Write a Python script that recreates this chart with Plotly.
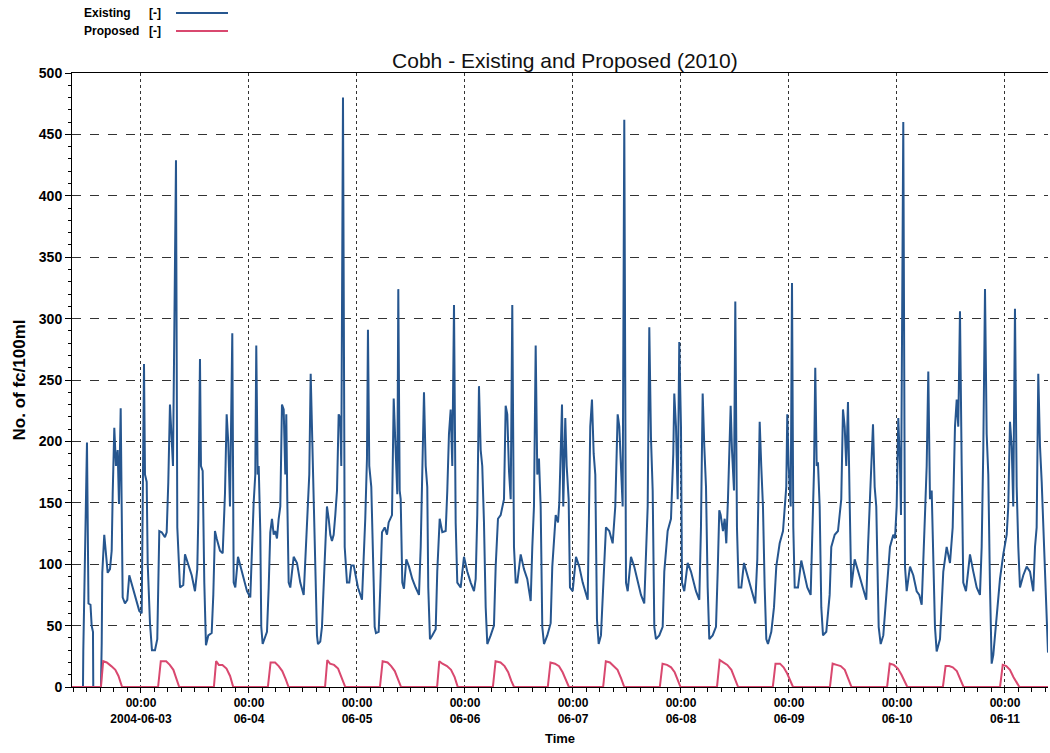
import pandas as pd
import plotly.graph_objects as go

# ---- data (hours after 2004-06-02 00:00, value in No. of fc/100ml) ----
existing = [
    (8.67, 0), (11.11, 0), (11.18, 29), (11.56, 96), (12.00, 199), (12.33, 68), (12.78, 67), (13.04, 50),
    (13.33, 45), (13.40, 0), (15.11, 0), (15.27, 35), (15.40, 93), (15.84, 124), (16.22, 111), (16.60, 93),
    (17.11, 96), (17.49, 111), (17.71, 157), (18.07, 211), (18.44, 180), (18.82, 193), (19.11, 149), (19.49, 227),
    (19.71, 147), (19.93, 73), (20.44, 68), (20.96, 71), (21.40, 91), (22.16, 81), (22.89, 71), (23.62, 62),
    (24.16, 60), (24.38, 170), (24.67, 263), (24.89, 173), (25.27, 167), (25.49, 101), (26.00, 52), (26.44, 30),
    (27.11, 30), (27.62, 39), (28.07, 127), (28.60, 126), (29.33, 122), (29.71, 126), (30.07, 167), (30.44, 230),
    (30.82, 199), (31.11, 180), (31.78, 429), (32.07, 130), (32.67, 81), (33.40, 83), (33.78, 108), (34.51, 99),
    (35.27, 91), (36.00, 78), (36.51, 96), (36.73, 137), (37.11, 267), (37.33, 180), (37.71, 176), (38.07, 85),
    (38.44, 34), (38.96, 42), (39.71, 44), (40.07, 75), (40.44, 127), (40.82, 121), (41.56, 111), (42.16, 109),
    (42.67, 158), (43.04, 222), (43.40, 199), (43.78, 147), (44.29, 288), (44.60, 85), (44.96, 81), (45.56, 106),
    (46.07, 99), (46.82, 88), (47.56, 78), (48.29, 73), (48.67, 114), (49.04, 150), (49.40, 173), (49.62, 278),
    (49.93, 173), (50.16, 180), (50.51, 127), (50.73, 49), (51.04, 35), (51.62, 42), (52.00, 45), (52.38, 81),
    (52.73, 126), (53.11, 137), (53.49, 124), (53.84, 127), (54.22, 121), (54.60, 137), (54.96, 147), (55.33, 230),
    (55.71, 226), (56.07, 173), (56.29, 222), (56.51, 153), (56.82, 85), (57.18, 81), (57.93, 106), (58.67, 101),
    (59.40, 85), (60.16, 75), (60.51, 104), (60.89, 140), (61.40, 173), (61.71, 255), (62.00, 212), (62.38, 160),
    (62.73, 108), (63.11, 42), (63.33, 35), (63.84, 37), (64.22, 49), (64.82, 101), (65.33, 147), (65.71, 137),
    (66.07, 124), (66.44, 119), (66.82, 124), (67.18, 140), (67.56, 160), (67.93, 222), (68.29, 219), (68.51, 180),
    (68.89, 480), (69.27, 114), (69.78, 85), (70.29, 85), (70.73, 99), (71.27, 99), (71.78, 90), (72.22, 81),
    (73.11, 71), (73.49, 104), (73.84, 137), (74.22, 186), (74.44, 291), (74.73, 180), (75.18, 163), (75.71, 85),
    (75.93, 49), (76.22, 44), (76.82, 45), (77.18, 81), (77.56, 126), (78.16, 130), (78.67, 124), (79.04, 134),
    (79.78, 140), (80.16, 235), (80.60, 196), (80.96, 157), (81.18, 324), (81.49, 160), (81.71, 153), (82.07, 85),
    (82.44, 80), (82.96, 104), (83.56, 98), (84.29, 88), (85.04, 81), (85.78, 75), (86.16, 114), (86.51, 180),
    (86.89, 240), (87.27, 180), (87.62, 163), (87.84, 81), (88.22, 39), (88.73, 42), (89.49, 47), (89.84, 94),
    (90.38, 137), (90.96, 126), (91.71, 127), (92.07, 160), (92.44, 206), (92.82, 226), (93.18, 180), (93.56, 311),
    (93.93, 134), (94.29, 85), (95.04, 81), (95.78, 106), (96.51, 94), (97.27, 85), (98.00, 78), (98.38, 88),
    (98.73, 140), (99.11, 245), (99.49, 193), (99.84, 180), (100.22, 134), (100.60, 65), (100.96, 35), (101.71, 42),
    (102.44, 50), (102.82, 98), (103.33, 137), (103.93, 140), (104.67, 153), (105.04, 229), (105.40, 222), (105.78, 176),
    (106.16, 153), (106.51, 311), (106.89, 114), (107.27, 85), (107.62, 85), (108.38, 108), (109.11, 96), (109.84, 88),
    (110.60, 70), (110.96, 114), (111.33, 147), (111.71, 278), (112.07, 173), (112.44, 186), (112.82, 147), (113.18, 49),
    (113.56, 35), (114.29, 42), (115.04, 52), (115.40, 98), (116.16, 140), (116.67, 134), (116.96, 150), (117.56, 230),
    (117.84, 147), (118.29, 219), (118.60, 180), (119.04, 153), (119.33, 81), (119.93, 78), (120.67, 106), (121.40, 98),
    (122.16, 85), (123.27, 71), (123.62, 147), (123.84, 212), (124.22, 234), (124.60, 190), (124.96, 173), (125.33, 55),
    (125.71, 35), (126.22, 42), (126.96, 101), (127.33, 130), (128.07, 127), (128.82, 117), (129.40, 147), (129.93, 222),
    (130.29, 212), (130.67, 180), (131.04, 147), (131.40, 462), (131.78, 85), (132.16, 78), (132.89, 106), (133.62, 98),
    (134.38, 85), (135.11, 75), (135.84, 68), (136.22, 114), (136.60, 147), (136.96, 293), (137.33, 203), (137.71, 160),
    (138.07, 49), (138.44, 39), (139.18, 42), (139.93, 49), (140.29, 94), (141.04, 127), (141.78, 137), (142.29, 190),
    (142.51, 239), (142.89, 212), (143.27, 153), (143.62, 281), (144.00, 212), (144.22, 85), (144.73, 78), (145.49, 101),
    (146.22, 94), (147.33, 78), (148.07, 71), (148.44, 130), (148.82, 239), (149.18, 196), (149.56, 163), (149.93, 81),
    (150.29, 39), (151.04, 42), (151.78, 49), (152.16, 94), (152.51, 144), (152.82, 140), (153.33, 127), (153.71, 137),
    (154.07, 117), (154.44, 153), (154.82, 212), (155.04, 229), (155.33, 193), (155.78, 160), (156.07, 314), (156.44, 130),
    (156.82, 81), (157.40, 81), (158.00, 101), (158.51, 94), (159.27, 85), (160.00, 75), (160.51, 68), (160.96, 104),
    (161.27, 180), (161.49, 216), (161.84, 180), (162.22, 147), (162.60, 81), (162.96, 39), (163.33, 35), (164.07, 45),
    (164.67, 65), (165.18, 98), (165.93, 117), (166.67, 127), (167.40, 163), (167.62, 222), (167.93, 180), (168.38, 147),
    (168.67, 329), (168.96, 130), (169.27, 81), (170.00, 81), (170.73, 103), (171.33, 94), (172.07, 81), (172.82, 75),
    (173.33, 153), (173.56, 176), (173.84, 260), (174.16, 180), (174.44, 183), (174.82, 147), (175.18, 65), (175.56, 42),
    (176.29, 45), (177.04, 75), (177.40, 114), (178.16, 124), (178.89, 127), (179.62, 153), (180.00, 226), (180.38, 212),
    (180.73, 180), (181.11, 232), (181.49, 150), (181.84, 81), (182.60, 104), (183.33, 94), (184.07, 85), (185.18, 71),
    (185.56, 114), (186.16, 176), (186.67, 214), (187.04, 163), (187.40, 147), (187.93, 49), (188.38, 35), (188.96, 42),
    (189.71, 75), (190.44, 114), (191.18, 124), (191.56, 121), (191.93, 147), (192.29, 219), (192.67, 180), (192.89, 140),
    (193.40, 460), (193.78, 98), (194.16, 78), (194.89, 98), (195.62, 91), (196.38, 78), (196.96, 75), (197.49, 67),
    (198.22, 140), (198.60, 180), (198.96, 257), (199.33, 153), (199.71, 160), (200.07, 114), (200.44, 49), (200.82, 29),
    (201.56, 39), (202.29, 94), (203.04, 114), (203.78, 101), (204.38, 130), (204.89, 212), (205.27, 234), (205.62, 212),
    (206.00, 306), (206.38, 180), (206.73, 85), (207.33, 78), (208.22, 108), (208.96, 94), (209.71, 81), (210.44, 75),
    (210.82, 114), (211.18, 193), (211.56, 324), (211.93, 206), (212.29, 173), (212.67, 81), (213.04, 19), (213.40, 26),
    (214.16, 55), (214.89, 88), (215.62, 108), (216.38, 124), (216.73, 147), (217.11, 216), (217.49, 196), (217.84, 147),
    (218.22, 308), (218.60, 163), (218.96, 114), (219.33, 81), (220.07, 91), (220.82, 98), (221.56, 94), (222.29, 78),
    (222.67, 114), (223.04, 130), (223.40, 255), (223.78, 196), (224.16, 167), (224.51, 130), (225.27, 49), (225.56, 28),
]

proposed = [
    (8.67, 0),
    (15.1, 0), (15.6, 21), (16.4, 20), (17.4, 17), (18.3, 14), (19.0, 9), (19.8, 0),
    (27.8, 0), (28.4, 21), (29.6, 21), (30.4, 18), (31.2, 14), (31.9, 7), (32.5, 0),
    (40.2, 0), (40.7, 21), (41.3, 18), (42.1, 18), (43.0, 15), (43.8, 9), (44.5, 0),
    (52.2, 0), (52.8, 20), (53.8, 20), (54.6, 17), (55.4, 13), (56.2, 6), (56.8, 0),
    (64.9, 0), (65.4, 22), (66.0, 19), (66.9, 18), (67.8, 15), (68.6, 8), (69.4, 0),
    (77.1, 0), (77.7, 21), (78.8, 20), (79.6, 17), (80.4, 13), (81.2, 6), (81.8, 0),
    (89.8, 0), (90.3, 21), (91.0, 19), (92.0, 17), (92.9, 14), (93.7, 8), (94.4, 0),
    (102.2, 0), (102.8, 21), (103.9, 20), (104.8, 17), (105.6, 12), (106.3, 5), (106.9, 0),
    (114.4, 0), (115.0, 20), (116.0, 19), (116.9, 17), (117.7, 12), (118.5, 5), (119.1, 0),
    (126.7, 0), (127.3, 21), (128.2, 20), (129.0, 17), (129.9, 14), (130.7, 7), (131.4, 0),
    (139.3, 0), (139.9, 19), (140.9, 18), (141.8, 16), (142.6, 12), (143.3, 5), (143.9, 0),
    (152.0, 0), (152.6, 22), (153.4, 20), (154.3, 18), (155.2, 14), (156.0, 7), (156.7, 0),
    (164.4, 0), (165.0, 19), (166.0, 19), (166.8, 16), (167.6, 11), (168.3, 5), (168.9, 0),
    (177.1, 0), (177.7, 19), (178.6, 18), (179.5, 17), (180.4, 14), (181.2, 6), (181.9, 0),
    (189.8, 0), (190.4, 19), (191.3, 18), (192.2, 15), (193.0, 10), (193.7, 4), (194.3, 0),
    (202.2, 0), (202.8, 17), (203.6, 17), (204.4, 16), (205.3, 13), (206.1, 6), (206.8, 0),
    (214.9, 0), (215.5, 18), (216.3, 17), (217.1, 14), (217.9, 8), (218.6, 3), (219.2, 0),
    (225.56, 0),
]

tick_dates = ["2004-06-03", "2004-06-04", "2004-06-05", "2004-06-06", "2004-06-07",
              "2004-06-08", "2004-06-09", "2004-06-10", "2004-06-11"]
tick_labels = ["00:00<br>2004-06-03", "00:00<br>06-04", "00:00<br>06-05", "00:00<br>06-06",
               "00:00<br>06-07", "00:00<br>06-08", "00:00<br>06-09", "00:00<br>06-10", "00:00<br>06-11"]

base = pd.Timestamp("2004-06-02 00:00")
ex_t = [base + pd.Timedelta(hours=h) for h, _ in existing]
ex_v = [v for _, v in existing]
pr_t = [base + pd.Timedelta(hours=h) for h, _ in proposed]
pr_v = [v for _, v in proposed]

BLUE = "#26568f"
RED = "#d9486f"
FONT = "Liberation Sans"

fig = go.Figure()
fig.add_trace(go.Scatter(x=ex_t, y=ex_v, mode="lines", name="Existing [-]",
                         line=dict(color=BLUE, width=2), showlegend=False))
fig.add_trace(go.Scatter(x=pr_t, y=pr_v, mode="lines", name="Proposed [-]",
                         line=dict(color=RED, width=2), showlegend=False))

fig.update_layout(
    width=1050, height=753,
    margin=dict(l=72, r=2, t=73, b=66),
    paper_bgcolor="white", plot_bgcolor="white",
    font=dict(family=FONT, color="black"),
    title=dict(text="Cobh - Existing and Proposed (2010)", x=0.505, xref="paper",
               y=1 - 61 / 753, yref="container", xanchor="center", yanchor="middle",
               font=dict(family=FONT, size=21, color="#111")),
)

fig.update_xaxes(
    type="date", automargin=False,
    range=[base + pd.Timedelta(hours=8.67), base + pd.Timedelta(hours=225.56)],
    tickmode="array", tickvals=tick_dates, ticktext=tick_labels,
    tickfont=dict(family=FONT, size=12, color="black", weight="bold"),
    ticks="outside", ticklen=5, tickcolor="black",
    minor=dict(dtick=3 * 3600 * 1000, tick0="2004-06-03", ticks="outside", ticklen=4,
               tickcolor="black", showgrid=False),
    showgrid=True, gridcolor="#333", griddash="dot", gridwidth=1,
    showline=True, linecolor="black", linewidth=1, mirror=True,
    zeroline=False,
    title=dict(text="Time", font=dict(family=FONT, size=13, color="black", weight="bold"), standoff=8),
)

fig.update_yaxes(
    range=[0, 500], tickmode="linear", tick0=0, dtick=50, automargin=False,
    tickfont=dict(family=FONT, size=14, color="black", weight="bold"),
    ticks="outside", ticklen=6, tickcolor="black",
    minor=dict(dtick=10, ticks="outside", ticklen=3, tickcolor="black", showgrid=False),
    showgrid=True, gridcolor="#333", griddash="dash", gridwidth=1,
    showline=True, linecolor="black", linewidth=1,
    zeroline=False,
    title=dict(text="No. of fc/100ml", font=dict(family=FONT, size=17, color="black", weight="bold"), standoff=8),
)

# legend drawn as text + line samples at the top-left
leg_font = dict(family=FONT, size=12, color="black", weight="bold")
rows = [("Existing", BLUE, (687 - 13) / 614), ("Proposed", RED, (687 - 31) / 614)]
for name, col, yy in rows:
    fig.add_annotation(text=name, x=(82 - 72) / 976, y=yy, xref="paper", yref="paper",
                       xanchor="left", yanchor="middle", showarrow=False, font=leg_font)
    fig.add_annotation(text="[-]", x=(147 - 72) / 976, y=yy, xref="paper", yref="paper",
                       xanchor="left", yanchor="middle", showarrow=False, font=leg_font)
    fig.add_shape(type="line", xref="paper", yref="paper",
                  x0=(176 - 72) / 976, x1=(228 - 72) / 976, y0=yy, y1=yy,
                  line=dict(color=col, width=2))

fig.write_html("out.html", config={"displayModeBar": False},
               post_script="document.body.style.margin='0';document.body.style.overflow='hidden';")
